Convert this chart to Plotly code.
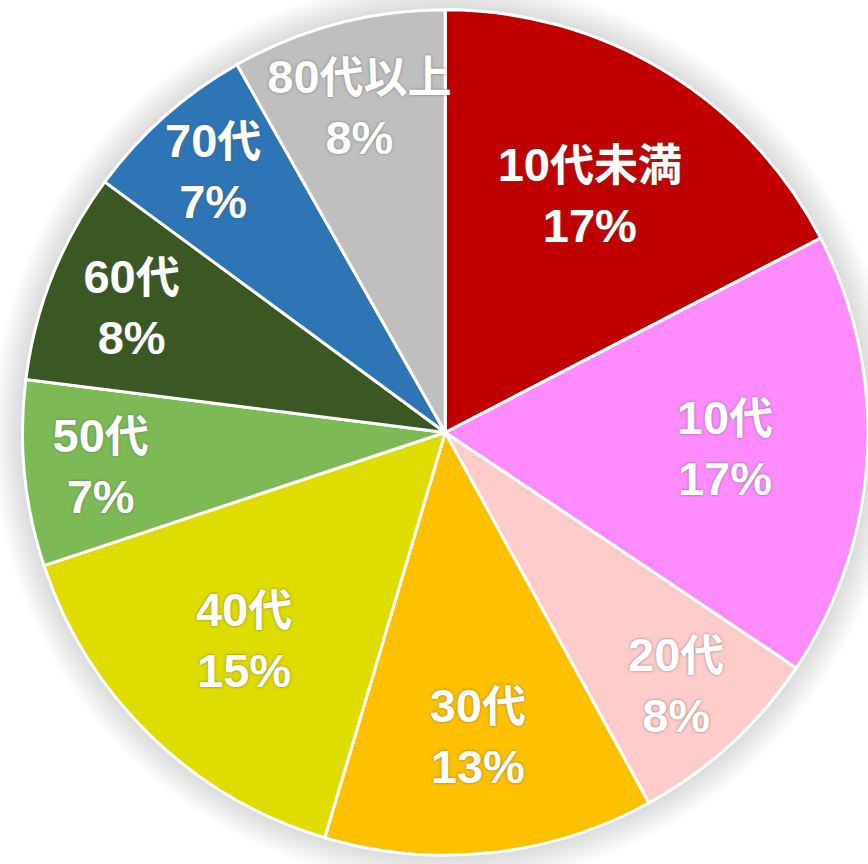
import re
import plotly.graph_objects as go

labels = ["10代未満", "10代", "20代", "30代", "40代", "50代", "60代", "70代", "80代以上"]
values = [17.4, 17.0, 7.6, 12.6, 15.3, 7.1, 8.1, 6.7, 8.2]
colors = ["#C00000", "#FF8BFF", "#FFCCCC", "#FFC000", "#DFDC00",
          "#7DBA56", "#3B5724", "#2E75B6", "#BFBFBF"]

W, H = 868, 864
dom_x = [0.0259, 1.0]
dom_y = [0.0093, 0.9896]
FS = 47       # Latin digits
FS_CJK = 44   # kanji part of the labels


def fmt(label):
    return re.sub(r"([^\x00-\x7f]+)",
                  lambda m: "<span style='font-size:%dpx'>%s</span>" % (FS_CJK, m.group(1)),
                  label)


fig = go.Figure()
fig.add_trace(go.Pie(
    labels=labels,
    values=values,
    text=[fmt(l) for l in labels],
    sort=False,
    direction="clockwise",
    rotation=0,
    marker=dict(colors=colors, line=dict(color="white", width=3)),
    texttemplate="%{text}<br>%{percent:.0%}",
    textposition="inside",
    insidetextorientation="horizontal",
    textfont=dict(family="Liberation Sans, Arial, Noto Sans CJK JP",
                  size=FS, color="white", weight="bold",
                  shadow="0px 0px 3px rgba(90,90,90,0.7)"),
    showlegend=False,
    hoverinfo="label+percent",
    domain=dict(x=dom_x, y=dom_y),
))

# soft halo shadow around the pie (decorative)
cx = (dom_x[0] + dom_x[1]) / 2 * W
cy = (dom_y[0] + dom_y[1]) / 2 * H
r = min((dom_x[1] - dom_x[0]) * W, (dom_y[1] - dom_y[0]) * H) / 2
for k in range(1, 13):
    rr = r + 2.5 * k
    fig.add_shape(type="circle", xref="paper", yref="paper", layer="below",
                  x0=(cx - rr) / W, x1=(cx + rr) / W,
                  y0=(cy - rr) / H, y1=(cy + rr) / H,
                  fillcolor="rgba(0,0,0,0.013)", line=dict(width=0))

fig.update_layout(
    width=W, height=H,
    margin=dict(l=0, r=0, t=0, b=0),
    paper_bgcolor="white",
    plot_bgcolor="white",
    uniformtext=dict(mode="show", minsize=FS),
)

fig.write_html("out.html")
